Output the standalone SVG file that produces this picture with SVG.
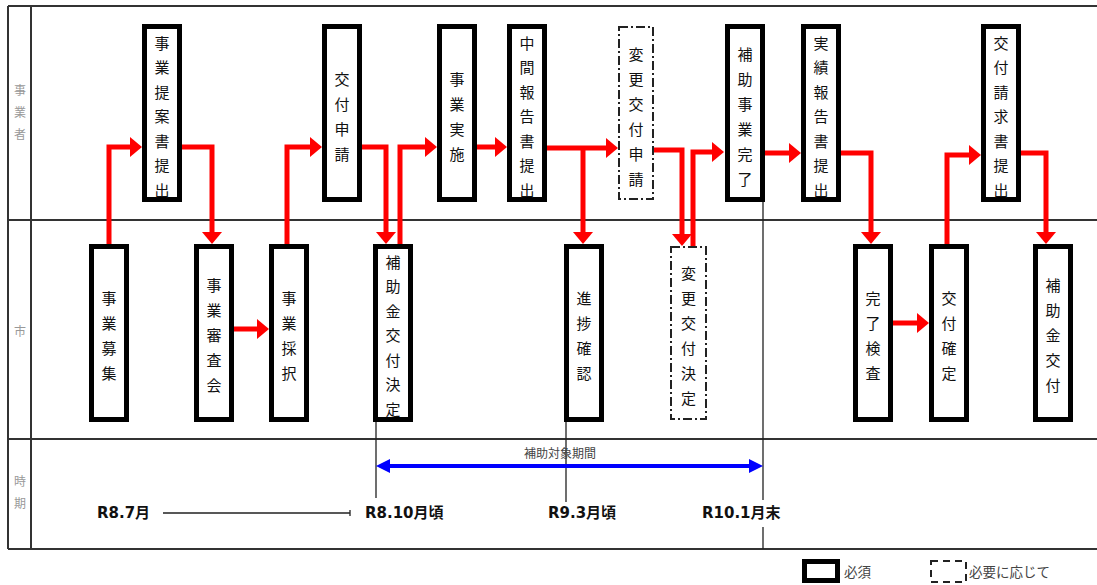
<svg xmlns="http://www.w3.org/2000/svg" width="1097" height="585" viewBox="0 0 1097 585">
<style>
.grid{stroke:#333;stroke-width:2;fill:none}
.box{fill:#fff;stroke:#000;stroke-width:5}
.dbox{fill:#fff;stroke:#222;stroke-width:2;stroke-dasharray:9 3 2 3}
.lbl{font-family:"Noto Sans CJK JP","Noto Sans CJK SC",sans-serif;font-size:15px;fill:#111;text-anchor:middle;dominant-baseline:central}
.lane{font-family:"Noto Sans CJK JP",sans-serif;font-size:12px;fill:#999;text-anchor:middle;dominant-baseline:central}
.flow{fill:none;stroke:#f00;stroke-width:5;stroke-linejoin:miter}
.thin{stroke:#222;stroke-width:1.3;fill:none}
.date{font-family:"DejaVu Sans","Noto Sans CJK JP",sans-serif;font-weight:bold;font-size:15px;fill:#111;dominant-baseline:central}
.leg{font-family:"Noto Sans CJK JP",sans-serif;font-size:13.5px;fill:#444;dominant-baseline:central}
</style>
<defs>
<marker id="ah" markerUnits="userSpaceOnUse" viewBox="0 0 12 20" markerWidth="12" markerHeight="20" refX="6" refY="10" orient="auto">
<path d="M0,0 L12,10 L0,20 z" fill="#f00"/>
</marker>
<marker id="bh" markerUnits="userSpaceOnUse" viewBox="0 0 14 14" markerWidth="14" markerHeight="14" refX="7" refY="7" orient="auto-start-reverse">
<path d="M0,0 L14,7 L0,14 z" fill="#00f"/>
</marker>
</defs>
<rect width="1097" height="585" fill="#fff"/>
<g id="frame">
<path class="grid" d="M8,6 H1097 M8,220 H1097 M8,439 H1097 M8,549 H1097 M8,6 V549 M31,6 V549"/>
<text class="lane"><tspan x="20" y="89">事</tspan><tspan x="20" y="111">業</tspan><tspan x="20" y="133">者</tspan></text>
<text class="lane" x="20" y="330">市</text>
<text class="lane"><tspan x="20" y="480">時</tspan><tspan x="20" y="502">期</tspan></text>
</g>
<g id="timeline">
<path class="thin" d="M376,422 V498 M566,422 V502 M763,202 V500 M763,527 V549 M163,513 H350 M350,510 V516"/>
<path d="M383,466 H756" stroke="#00f" stroke-width="4" marker-start="url(#bh)" marker-end="url(#bh)"/>
<text class="lane" x="560" y="452" style="fill:#444;font-size:12px">補助対象期間</text>
<text class="date" x="97" y="513">R8.7月</text>
<text class="date" x="365" y="513">R8.10月頃</text>
<text class="date" x="548" y="513">R9.3月頃</text>
<text class="date" x="702" y="513">R10.1月末</text>
</g>
<g id="connectors">
<path class="flow" d="M109,244 V147 H136" marker-end="url(#ah)"/>
<path class="flow" d="M182,147 H212 V238" marker-end="url(#ah)"/>
<path class="flow" d="M234,329 H263" marker-end="url(#ah)"/>
<path class="flow" d="M287,244 V147 H316" marker-end="url(#ah)"/>
<path class="flow" d="M362,147 H386 V238" marker-end="url(#ah)"/>
<path class="flow" d="M400,244 V147 H431" marker-end="url(#ah)"/>
<path class="flow" d="M477,147 H501" marker-end="url(#ah)"/>
<path class="flow" d="M547,148 H612" marker-end="url(#ah)"/>
<path class="flow" d="M583,148 V238" marker-end="url(#ah)"/>
<path class="flow" d="M654,150 H682 V240" marker-end="url(#ah)"/>
<path class="flow" d="M693,246 V152 H718" marker-end="url(#ah)"/>
<path class="flow" d="M765,153 H795" marker-end="url(#ah)"/>
<path class="flow" d="M841,153 H871 V238" marker-end="url(#ah)"/>
<path class="flow" d="M893,323 H923" marker-end="url(#ah)"/>
<path class="flow" d="M947,244 V155 H975" marker-end="url(#ah)"/>
<path class="flow" d="M1021,153 H1046 V238" marker-end="url(#ah)"/>
</g>
<g id="n-teian">
<rect class="box" x="144.5" y="26.5" width="35" height="173"/>
<text class="lbl"><tspan x="162" y="41.5">事</tspan><tspan x="162" y="66">業</tspan><tspan x="162" y="90.5">提</tspan><tspan x="162" y="115">案</tspan><tspan x="162" y="139.5">書</tspan><tspan x="162" y="164">提</tspan><tspan x="162" y="188.5">出</tspan></text>
</g>
<g id="n-koufushinsei">
<rect class="box" x="324.5" y="26.5" width="35" height="173"/>
<text class="lbl"><tspan x="342" y="77.5">交</tspan><tspan x="342" y="102.5">付</tspan><tspan x="342" y="127.5">申</tspan><tspan x="342" y="152.5">請</tspan></text>
</g>
<g id="n-jisshi">
<rect class="box" x="439.5" y="26.5" width="35" height="173"/>
<text class="lbl"><tspan x="457" y="77.5">事</tspan><tspan x="457" y="102.5">業</tspan><tspan x="457" y="127.5">実</tspan><tspan x="457" y="152.5">施</tspan></text>
</g>
<g id="n-chukan">
<rect class="box" x="509.5" y="26.5" width="35" height="173"/>
<text class="lbl"><tspan x="527" y="41.5">中</tspan><tspan x="527" y="66">間</tspan><tspan x="527" y="90.5">報</tspan><tspan x="527" y="115">告</tspan><tspan x="527" y="139.5">書</tspan><tspan x="527" y="164">提</tspan><tspan x="527" y="188.5">出</tspan></text>
</g>
<g id="n-henkoushinsei">
<rect class="dbox" x="619" y="27" width="34" height="172"/>
<text class="lbl"><tspan x="636" y="52.5">変</tspan><tspan x="636" y="77.5">更</tspan><tspan x="636" y="102.5">交</tspan><tspan x="636" y="127.5">付</tspan><tspan x="636" y="152.5">申</tspan><tspan x="636" y="177.5">請</tspan></text>
</g>
<g id="n-kanryou">
<rect class="box" x="727.5" y="26.5" width="35" height="173"/>
<text class="lbl"><tspan x="745" y="52.5">補</tspan><tspan x="745" y="77.5">助</tspan><tspan x="745" y="102.5">事</tspan><tspan x="745" y="127.5">業</tspan><tspan x="745" y="152.5">完</tspan><tspan x="745" y="177.5">了</tspan></text>
</g>
<g id="n-jisseki">
<rect class="box" x="803.5" y="26.5" width="35" height="173"/>
<text class="lbl"><tspan x="821" y="41.5">実</tspan><tspan x="821" y="66">績</tspan><tspan x="821" y="90.5">報</tspan><tspan x="821" y="115">告</tspan><tspan x="821" y="139.5">書</tspan><tspan x="821" y="164">提</tspan><tspan x="821" y="188.5">出</tspan></text>
</g>
<g id="n-seikyu">
<rect class="box" x="983.5" y="26.5" width="35" height="173"/>
<text class="lbl"><tspan x="1001" y="41.5">交</tspan><tspan x="1001" y="66">付</tspan><tspan x="1001" y="90.5">請</tspan><tspan x="1001" y="115">求</tspan><tspan x="1001" y="139.5">書</tspan><tspan x="1001" y="164">提</tspan><tspan x="1001" y="188.5">出</tspan></text>
</g>
<g id="n-boshu">
<rect class="box" x="91.5" y="246.5" width="35" height="173"/>
<text class="lbl"><tspan x="109" y="296.5">事</tspan><tspan x="109" y="321.5">業</tspan><tspan x="109" y="346.5">募</tspan><tspan x="109" y="371.5">集</tspan></text>
</g>
<g id="n-shinsa">
<rect class="box" x="196.5" y="246.5" width="35" height="173"/>
<text class="lbl"><tspan x="214" y="284">事</tspan><tspan x="214" y="309">業</tspan><tspan x="214" y="334">審</tspan><tspan x="214" y="359">査</tspan><tspan x="214" y="384">会</tspan></text>
</g>
<g id="n-saitaku">
<rect class="box" x="271.5" y="246.5" width="35" height="173"/>
<text class="lbl"><tspan x="289" y="296.5">事</tspan><tspan x="289" y="321.5">業</tspan><tspan x="289" y="346.5">採</tspan><tspan x="289" y="371.5">択</tspan></text>
</g>
<g id="n-koufukettei">
<rect class="box" x="375.5" y="246.5" width="35" height="173"/>
<text class="lbl"><tspan x="393" y="260.5">補</tspan><tspan x="393" y="285">助</tspan><tspan x="393" y="309.5">金</tspan><tspan x="393" y="334">交</tspan><tspan x="393" y="358.5">付</tspan><tspan x="393" y="383">決</tspan><tspan x="393" y="407.5">定</tspan></text>
</g>
<g id="n-shinchoku">
<rect class="box" x="566.5" y="246.5" width="35" height="173"/>
<text class="lbl"><tspan x="584" y="296.5">進</tspan><tspan x="584" y="321.5">捗</tspan><tspan x="584" y="346.5">確</tspan><tspan x="584" y="371.5">認</tspan></text>
</g>
<g id="n-henkoukettei">
<rect class="dbox" x="671" y="247" width="35" height="172"/>
<text class="lbl"><tspan x="688.5" y="271.5">変</tspan><tspan x="688.5" y="296.5">更</tspan><tspan x="688.5" y="321.5">交</tspan><tspan x="688.5" y="346.5">付</tspan><tspan x="688.5" y="371.5">決</tspan><tspan x="688.5" y="396.5">定</tspan></text>
</g>
<g id="n-kensa">
<rect class="box" x="855.5" y="246.5" width="35" height="173"/>
<text class="lbl"><tspan x="873" y="296.5">完</tspan><tspan x="873" y="321.5">了</tspan><tspan x="873" y="346.5">検</tspan><tspan x="873" y="371.5">査</tspan></text>
</g>
<g id="n-kakutei">
<rect class="box" x="931.5" y="246.5" width="35" height="173"/>
<text class="lbl"><tspan x="949" y="296.5">交</tspan><tspan x="949" y="321.5">付</tspan><tspan x="949" y="346.5">確</tspan><tspan x="949" y="371.5">定</tspan></text>
</g>
<g id="n-koufu">
<rect class="box" x="1035.5" y="246.5" width="35" height="173"/>
<text class="lbl"><tspan x="1053" y="284">補</tspan><tspan x="1053" y="309">助</tspan><tspan x="1053" y="334">金</tspan><tspan x="1053" y="359">交</tspan><tspan x="1053" y="384">付</tspan></text>
</g>
<g id="legend">
<rect class="box" x="804.5" y="561.5" width="33" height="19"/>
<text class="leg" x="844" y="571">必須</text>
<rect class="dbox" x="931" y="561" width="35" height="21" style="stroke-dasharray:7 5"/>
<text class="leg" x="969" y="571">必要に応じて</text>
</g>
</svg>
